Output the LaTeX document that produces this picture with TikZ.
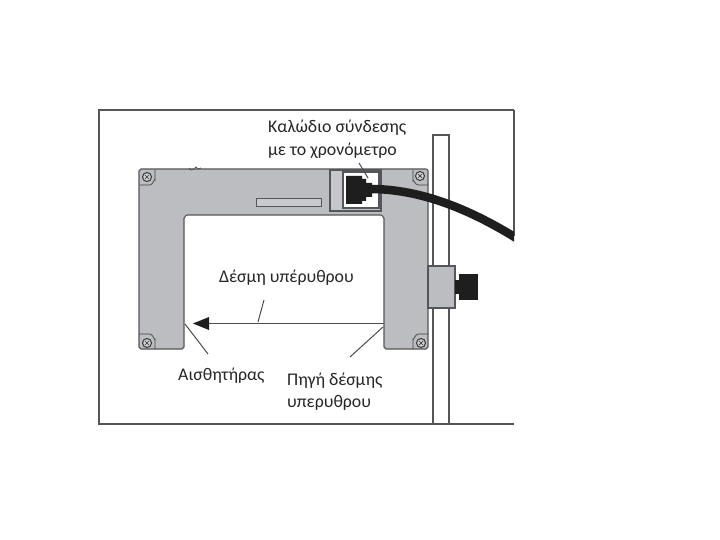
\documentclass[tikz,border=0pt]{standalone}
\usepackage{fontspec}
\setmainfont{Carlito}
\definecolor{bodygray}{HTML}{BCBDC1}
\definecolor{edgegray}{HTML}{55565A}
\definecolor{plugblack}{HTML}{1E1E1E}
\tikzset{
  frameline/.style={draw=edgegray,line width=1.3pt},
  bodyshape/.style={draw=edgegray,line width=1.1pt,fill=bodygray,line join=round},
  leader/.style={draw=black!70,line width=1pt},
  darkfill/.style={fill=plugblack,draw=none},
  lbl/.style={anchor=base west,inner sep=0pt,font=\fontsize{17.8}{19}\selectfont,text=black!85},
  screwA/.style={draw=black!75,line width=0.8pt,fill=none}
}
\newcommand{\screwmark}[3]{%
  \draw[screwA,line width=1.1pt,fill=bodygray!70] (#1,#2) circle[radius=4.5pt];
  \draw[black!80,line width=0.7pt] (#1-2,#2-2) -- (#1+2,#2+2) (#1-2,#2+2) -- (#1+2,#2-2);
  #3
}
\begin{document}
\begin{tikzpicture}[x=1pt,y=-1pt]
\useasboundingbox (0,0) rectangle (720,540);
\fill[white] (0,0) rectangle (720,540);
% frame
\draw[frameline] (514,110) -- (99,110) -- (99,424) -- (514,424);
\draw[frameline] (514,110) -- (514,236);
% rail
\draw[frameline,line width=1.1pt] (433,424) -- (433,135) -- (449,135) -- (449,424);
% sensor body
\draw[bodyshape]
  (141,169) -- (426,169) to[out=0,in=90] (428,171) -- (428,347) to[out=90,in=0] (426,349)
  -- (386,349) to[out=180,in=90] (384,347) -- (384,218) to[out=-90,in=0] (381,215)
  -- (187,215) to[out=180,in=-90] (184,218) -- (184,347) to[out=90,in=0] (182,349)
  -- (141,349) to[out=180,in=90] (139,347) -- (139,171) to[out=-90,in=180] (141,169) -- cycle;
% bump
\draw[edgegray,line width=0.8pt] (189,168) -- (191,170) -- (194,169) -- (196,167) -- (198,169) -- (201,168);
% slot
\draw[edgegray,line width=1pt,fill=bodygray!80] (256,199) rectangle (321,207);
% screws
\screwmark{147}{177}{\draw[black!75,line width=0.7pt] (140,185) -- (150,185) to[out=0,in=90] (155,180) -- (155,170);}
\screwmark{420}{176}{\draw[black!75,line width=0.7pt] (413,170) -- (413,181) to[out=90,in=180] (418,185) -- (428,185);}
\screwmark{147}{343}{\draw[black!75,line width=0.7pt] (139,334) -- (150,334) to[out=0,in=-90] (155,339) -- (155,349);}
\screwmark{421}{343}{\draw[black!75,line width=0.7pt] (413,349) -- (413,339) to[out=-90,in=180] (418,334) -- (428,334);}
% connector housing
\draw[edgegray,line width=1.1pt,fill=bodygray!85] (330,170) rectangle (381,211);
\draw[edgegray,line width=1.1pt,fill=white] (343,172) rectangle (379,208);
% plug
\path[darkfill] (346,176) -- (362,176) -- (362,179) -- (366,179) -- (366,183) -- (372,183)
  -- (372,197) -- (366,197) -- (366,201) -- (362,201) -- (362,204) -- (346,204) -- cycle;
% cable
\begin{scope}
\clip (360,170) rectangle (514,250);
\draw[plugblack,line width=8.5pt] (370,189) .. controls (415,189) and (465,205) .. (524,243);
\end{scope}
% clamp
\draw[edgegray,line width=1.1pt,fill=bodygray] (428,266) rectangle (455,308);
\path[darkfill] (455,280) rectangle (460,294);
\path[darkfill] (459,274) rectangle (478,300);
% texts
\node[lbl] (cableA) at (268,133) {Καλώδιο σύνδεσης};
\node[lbl] (cableB) at (268,156) {με το χρονόμετρο};
\node[lbl] (beam) at (219,282) {Δέσμη υπέρυθρου};
\node[lbl] (det) at (178,380) {Αισθητήρας};
\node[lbl] (srcA) at (287,385) {Πηγή δέσμης};
\node[lbl] (srcB) at (287,407) {υπερυθρου};
% anchor points
\coordinate (cableTip) at (368,178);
\coordinate (cableTail) at (359,163);
\coordinate (beamStart) at (384,323.5);
\coordinate (beamEnd) at (193,323.5);
\coordinate (beamLabelTail) at (264,300);
\coordinate (beamLabelTip) at (258,322);
\coordinate (detTip) at (185,324);
\coordinate (detTail) at (208,354);
\coordinate (srcTip) at (383,327);
\coordinate (srcTail) at (350,357);
% leaders
\draw[leader] (cableTail) -- (cableTip);
\draw[leader] (beamLabelTail) -- (beamLabelTip);
\draw[leader] (detTip) -- (detTail);
\draw[leader] (srcTip) -- (srcTail);
% beam
\draw[leader] (beamStart) -- (208,323.5);
\path[darkfill] (beamEnd) -- (209,317) -- (209,330) -- cycle;
\end{tikzpicture}
\end{document}
